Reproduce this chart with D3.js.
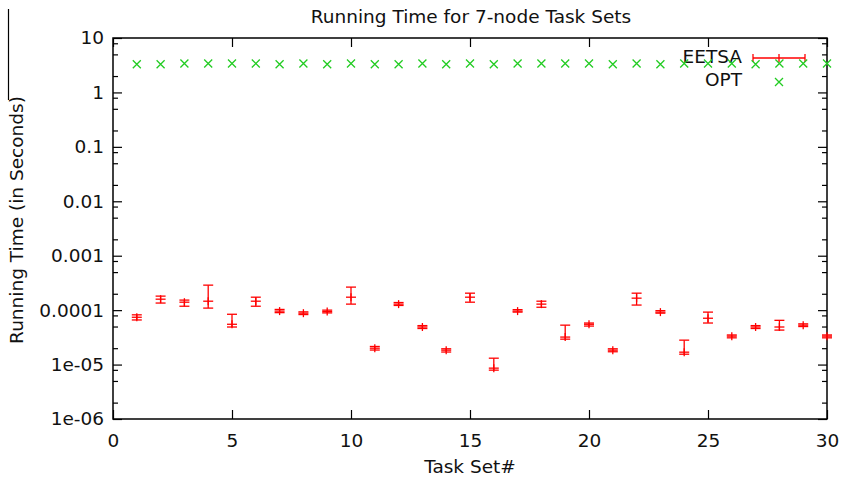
<!DOCTYPE html>
<html>
<head>
<meta charset="utf-8">
<script src="https://cdn.jsdelivr.net/npm/d3@7"></script>
<style>
  body { margin: 0; background: #fff; }
  text { font-family: "DejaVu Sans", sans-serif; fill: #111; }
</style>
</head>
<body>
<script>
var w = 844;
var h = 484;
var fontSize = "18.5px";

// task set numbers
var taskSets = [1, 2, 3, 4, 5, 6, 7, 8, 9, 10, 11, 12, 13, 14, 15,
                16, 17, 18, 19, 20, 21, 22, 23, 24, 25, 26, 27, 28, 29, 30];

// EETSA running time (mean, low, high) in seconds
var eetsaMean = [7.4e-5, 1.59e-4, 1.40e-4, 1.46e-4, 5.5e-5, 1.46e-4, 9.6e-5, 8.8e-5, 9.4e-5, 1.73e-4,
                 2.0e-5, 1.29e-4, 4.9e-5, 1.84e-5, 1.73e-4, 8.6e-6, 9.6e-5, 1.29e-4, 3.2e-5, 5.5e-5,
                 1.84e-5, 1.66e-4, 9.2e-5, 1.69e-5, 7.1e-5, 3.33e-5, 4.9e-5, 4.9e-5, 5.3e-5, 3.33e-5];
var eetsaLow = [6.6e-5, 1.35e-4, 1.18e-4, 1.09e-4, 4.9e-5, 1.18e-4, 9.0e-5, 8.3e-5, 8.9e-5, 1.29e-4,
                1.85e-5, 1.22e-4, 4.6e-5, 1.7e-5, 1.40e-4, 7.9e-6, 9.2e-5, 1.13e-4, 2.93e-5, 5.1e-5,
                1.72e-5, 1.24e-4, 8.8e-5, 1.55e-5, 5.8e-5, 3.1e-5, 4.6e-5, 4.3e-5, 5.0e-5, 3.1e-5];
var eetsaHigh = [8.2e-5, 1.81e-4, 1.53e-4, 2.88e-4, 8.4e-5, 1.73e-4, 1.03e-4, 9.3e-5, 1.0e-4, 2.65e-4,
                 2.15e-5, 1.38e-4, 5.2e-5, 1.95e-5, 2.05e-4, 1.31e-5, 1.02e-4, 1.46e-4, 5.3e-5, 5.8e-5,
                 1.95e-5, 2.05e-4, 9.8e-5, 2.81e-5, 9.2e-5, 3.5e-5, 5.2e-5, 6.5e-5, 5.6e-5, 3.5e-5];

// OPT running time in seconds
var optTime = [3.3, 3.3, 3.4, 3.4, 3.4, 3.4, 3.3, 3.4, 3.3, 3.4,
               3.3, 3.3, 3.4, 3.3, 3.4, 3.3, 3.4, 3.4, 3.4, 3.4,
               3.3, 3.4, 3.3, 3.4, 3.4, 3.4, 3.3, 3.4, 3.4, 3.4];

// axis ticks
var xTicks = [0, 5, 10, 15, 20, 25, 30];
var yTicks = [1e-6, 1e-5, 1e-4, 1e-3, 1e-2, 1e-1, 1, 10];
var yTickLabels = ["1e-06", "1e-05", "0.0001", "0.001", "0.01", "0.1", "1", "10"];
var yMinorSteps = [2, 5, 8];

var seriesNames = ["EETSA", "OPT"];

var x = d3.scaleLinear()
        .domain([0, 30])
        .range([113, 827]);

var y = d3.scaleLog()
        .domain([1e-6, 10])
        .range([419, 38]);

var svg = d3.select("body")
        .append("svg")
        .attr("width", w)
        .attr("height", h);

// stray border line at the far left of the picture
svg.append("line")
        .attr("x1", 8.5).attr("x2", 8.5)
        .attr("y1", 9).attr("y2", 100)
        .style("stroke", "#000")
        .style("stroke-width", 1.2);

var yMinor = [];
yTicks.slice(0, -1).forEach(function (t) {
    yMinorSteps.forEach(function (m) { yMinor.push(t * m); });
});

function styleAxis(g) {
    g.select(".domain").remove();
    g.selectAll(".tick line").style("stroke", "#000").style("stroke-width", 1.2);
    g.selectAll(".tick text")
            .style("font-size", fontSize)
            .style("font-family", "DejaVu Sans, sans-serif")
            .style("fill", "#111");
}

svg.append("g")
        .attr("transform", "translate(0,419)")
        .call(d3.axisBottom(x).tickValues(xTicks).tickSize(-9).tickSizeOuter(0).tickPadding(15))
        .call(styleAxis);

svg.append("g")
        .attr("transform", "translate(0,38)")
        .call(d3.axisTop(x).tickValues(xTicks).tickSize(-9).tickSizeOuter(0).tickFormat(""))
        .call(styleAxis);

svg.append("g")
        .attr("transform", "translate(113,0)")
        .call(d3.axisLeft(y).tickValues(yTicks).tickSize(-9).tickSizeOuter(0).tickPadding(9)
                .tickFormat(function (d, i) { return yTickLabels[i]; }))
        .call(styleAxis);

svg.append("g")
        .attr("transform", "translate(113,0)")
        .call(d3.axisLeft(y).tickValues(yMinor).tickSize(-5).tickSizeOuter(0).tickFormat(""))
        .call(styleAxis);

svg.append("g")
        .attr("transform", "translate(827,0)")
        .call(d3.axisRight(y).tickValues(yTicks).tickSize(-9).tickSizeOuter(0).tickFormat(""))
        .call(styleAxis);

svg.append("g")
        .attr("transform", "translate(827,0)")
        .call(d3.axisRight(y).tickValues(yMinor).tickSize(-5).tickSizeOuter(0).tickFormat(""))
        .call(styleAxis);

// frame
svg.append("rect")
        .attr("x", 113)
        .attr("y", 38)
        .attr("width", 714)
        .attr("height", 381)
        .style("fill", "none")
        .style("stroke", "#000")
        .style("stroke-width", 1.5);

// titles
svg.append("text")
        .attr("x", 471)
        .attr("y", 18)
        .attr("text-anchor", "middle")
        .attr("dominant-baseline", "middle")
        .style("font-size", fontSize)
        .text("Running Time for 7-node Task Sets");

svg.append("text")
        .attr("x", 470)
        .attr("y", 468)
        .attr("text-anchor", "middle")
        .attr("dominant-baseline", "middle")
        .style("font-size", fontSize)
        .text("Task Set#");

svg.append("text")
        .attr("transform", "translate(18,220) rotate(-90)")
        .attr("text-anchor", "middle")
        .attr("dominant-baseline", "middle")
        .style("font-size", fontSize)
        .text("Running Time (in Seconds)");

// legend
var red = "#ff0000";
var green = "#22cc22";

svg.selectAll("text.key")
        .data(seriesNames)
        .enter()
        .append("text")
        .attr("class", "key")
        .attr("x", 742)
        .attr("y", function (d, i) { return 58 + i * 23; })
        .attr("text-anchor", "end")
        .attr("dominant-baseline", "middle")
        .style("font-size", fontSize)
        .text(function (d) { return d; });

var key = svg.append("g").style("stroke", red).style("stroke-width", 1.3);
key.append("line").attr("x1", 753).attr("x2", 805).attr("y1", 58).attr("y2", 58);
key.append("line").attr("x1", 753).attr("x2", 753).attr("y1", 54).attr("y2", 62);
key.append("line").attr("x1", 805).attr("x2", 805).attr("y1", 54).attr("y2", 62);
key.append("line").attr("x1", 779).attr("x2", 779).attr("y1", 54).attr("y2", 62);

svg.append("path")
        .attr("d", "M775,78L783,86M775,86L783,78")
        .style("stroke", green)
        .style("stroke-width", 1.3)
        .style("fill", "none");

// EETSA error bars
var bars = svg.selectAll("g.bar")
        .data(taskSets)
        .enter()
        .append("g")
        .attr("class", "bar")
        .style("stroke", red)
        .style("stroke-width", 1.3);

bars.append("line")
        .attr("x1", function (d) { return x(d); })
        .attr("x2", function (d) { return x(d); })
        .attr("y1", function (d, i) { return y(eetsaLow[i]); })
        .attr("y2", function (d, i) { return y(eetsaHigh[i]); });

bars.append("line")
        .attr("x1", function (d) { return x(d) - 5; })
        .attr("x2", function (d) { return x(d) + 5; })
        .attr("y1", function (d, i) { return y(eetsaLow[i]); })
        .attr("y2", function (d, i) { return y(eetsaLow[i]); });

bars.append("line")
        .attr("x1", function (d) { return x(d) - 5; })
        .attr("x2", function (d) { return x(d) + 5; })
        .attr("y1", function (d, i) { return y(eetsaHigh[i]); })
        .attr("y2", function (d, i) { return y(eetsaHigh[i]); });

// "+" point marker
bars.append("line")
        .attr("x1", function (d) { return x(d) - 5; })
        .attr("x2", function (d) { return x(d) + 5; })
        .attr("y1", function (d, i) { return y(eetsaMean[i]); })
        .attr("y2", function (d, i) { return y(eetsaMean[i]); });

bars.append("line")
        .attr("x1", function (d) { return x(d); })
        .attr("x2", function (d) { return x(d); })
        .attr("y1", function (d, i) { return y(eetsaMean[i]) - 4; })
        .attr("y2", function (d, i) { return y(eetsaMean[i]) + 4; });

// OPT crosses
svg.selectAll("path.opt")
        .data(taskSets)
        .enter()
        .append("path")
        .attr("class", "opt")
        .attr("d", function (d, i) {
            var cx = x(d), cy = y(optTime[i]);
            return "M" + (cx - 4) + "," + (cy - 4) + "L" + (cx + 4) + "," + (cy + 4) +
                   "M" + (cx - 4) + "," + (cy + 4) + "L" + (cx + 4) + "," + (cy - 4);
        })
        .style("stroke", green)
        .style("stroke-width", 1.3)
        .style("fill", "none");
</script>
</body>
</html>
